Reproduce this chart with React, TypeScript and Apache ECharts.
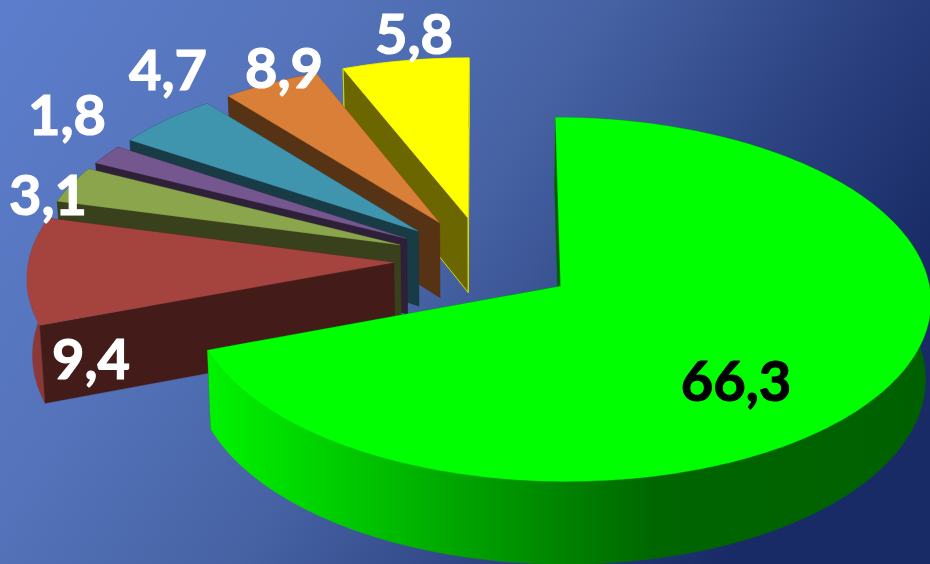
import React, { useEffect, useRef } from "react";
import * as echarts from "echarts";

// Printed labels, in the pie's clockwise order from 12 o'clock.
const sliceValues = [66.3, 9.4, 3.1, 1.8, 4.7, 8.9, 5.8];
// Shares as actually drawn in the picture (the wedges do not quite follow the printed labels).
const drawnShares = [69.4, 9.7, 3.3, 1.8, 5.0, 4.7, 6.1];
const topColors = ["#00ff00", "#a5433f", "#8ba54c", "#74578f", "#3f95ae", "#d97f38", "#ffff00"];
const wallColors = ["#006000", "#431c19", "#39401c", "#2e2038", "#193b46", "#573316", "#6b6600"];
const rimColors = ["green", "#8c3836", "#39401c", "#2e2038", "#193b46", "#573316", "#6b6600"];
const labelColors = ["#000000", "#ffffff", "#ffffff", "#ffffff", "#ffffff", "#ffffff", "#ffffff"];
const labelPositions = [
  [736, 379], [91, 357], [48, 193], [67, 113], [168, 68], [284, 66], [414, 32],
];

// Projection of the tilted pie.
const CX = 485, CY = 260.5, A = 365, B = 177.3, PERSPECTIVE = 0.0722;
const EXPLODE = 0.25, DEPTH = 76, SQUEEZE = 0.012;

const rad = (d: number) => (d * Math.PI) / 180;

function slices() {
  let acc = 0;
  return drawnShares.map((share) => {
    const from = acc;
    acc += share * 3.6;
    const to = acc;
    const mid = rad((from + to) / 2);
    return { from, to, ox: EXPLODE * Math.sin(mid), oy: -EXPLODE * Math.cos(mid) };
  });
}

function project(X: number, Y: number, lower: boolean): number[] {
  const s = 1 / (1 - PERSPECTIVE * Y);
  const x = CX + A * X * s;
  const y = CY + B * Y * s;
  return lower ? [CX + (x - CX) * (1 - SQUEEZE), y + DEPTH * s] : [x, y];
}

function rimPoints(sl: any, from: number, to: number, lower: boolean) {
  const pts: number[][] = [];
  const n = Math.max(2, Math.ceil(to - from));
  for (let k = 0; k <= n; k++) {
    const a = rad(from + ((to - from) * k) / n);
    pts.push(project(sl.ox + Math.sin(a), sl.oy - Math.cos(a), lower));
  }
  return pts;
}

function radialWall(sl: any, angle: number) {
  const a = rad(angle);
  const rimX = sl.ox + Math.sin(a), rimY = sl.oy - Math.cos(a);
  return [
    project(sl.ox, sl.oy, false),
    project(rimX, rimY, false),
    project(rimX, rimY, true),
    project(sl.ox, sl.oy, true),
  ];
}

export default function App() {
  const ref = useRef<HTMLDivElement>(null);
  useEffect(() => {
    const chart = echarts.init(ref.current!, undefined, { renderer: "svg" });
    const geo = slices();
    const greenWall = new echarts.graphic.LinearGradient(
      207, 0, 930, 0,
      [
        { offset: 0, color: "#00f400" },
        { offset: 0.2, color: "#00c800" },
        { offset: 0.4, color: "#009800" },
        { offset: 0.62, color: "#006600" },
        { offset: 1, color: "#006000" },
      ],
      true
    );
    const poly = (points: number[][], fill: any, stroke?: string) => ({
      type: "polygon",
      shape: { points },
      style: stroke ? { fill, stroke, lineWidth: 1 } : { fill, stroke: fill, lineWidth: 0.3 },
    });
    const strokeOf = (i: number) => (topColors[i] === "#ffff00" ? "#d8d800" : undefined);

    chart.setOption({
      animation: false,
      backgroundColor: new echarts.graphic.LinearGradient(0, 0.05, 1, 0.45, [
        { offset: 0, color: "#5c7dcb" },
        { offset: 0.3, color: "#5473ba" },
        { offset: 0.55, color: "#4662a3" },
        { offset: 0.8, color: "#2b4180" },
        { offset: 1, color: "#182b66" },
      ]),
      series: [
        {
          type: "custom",
          coordinateSystem: "none",
          clip: false,
          silent: true,
          // Painted from the back slice to the front one.
          data: sliceValues.map((_, i) => [sliceValues.length - 1 - i]),
          renderItem: (_p: any, api: any) => {
            const i = api.value(0);
            const sl = geo[i];
            const rimFill = rimColors[i] === "green" ? greenWall : rimColors[i];
            const upper = rimPoints(sl, sl.from, sl.to, false);
            const lower = rimPoints(sl, sl.from, sl.to, true).reverse();
            return {
              type: "group",
              children: [
                poly(radialWall(sl, sl.to), wallColors[i], strokeOf(i)),
                poly([...upper, ...lower], rimFill, strokeOf(i)),
                poly(radialWall(sl, sl.from), wallColors[i], strokeOf(i)),
                poly([project(sl.ox, sl.oy, false), ...upper], topColors[i]),
              ],
            };
          },
        },
        {
          type: "custom",
          coordinateSystem: "none",
          clip: false,
          silent: true,
          z: 5,
          data: sliceValues.map((v, i) => [i, v]),
          renderItem: (_p: any, api: any) => {
            const i = api.value(0);
            return {
              type: "text",
              x: labelPositions[i][0],
              y: labelPositions[i][1],
              style: {
                text: api.value(1).toFixed(1).replace(".", ","),
                fill: labelColors[i],
                stroke: labelColors[i],
                lineWidth: 1.2,
                font: "700 56px Lato",
                textAlign: "center",
                textVerticalAlign: "middle",
              },
            };
          },
        },
      ],
    });
    return () => chart.dispose();
  }, []);
  return <div ref={ref} style={{ position: "absolute", left: 0, top: 0, width: 930, height: 564 }} />;
}
